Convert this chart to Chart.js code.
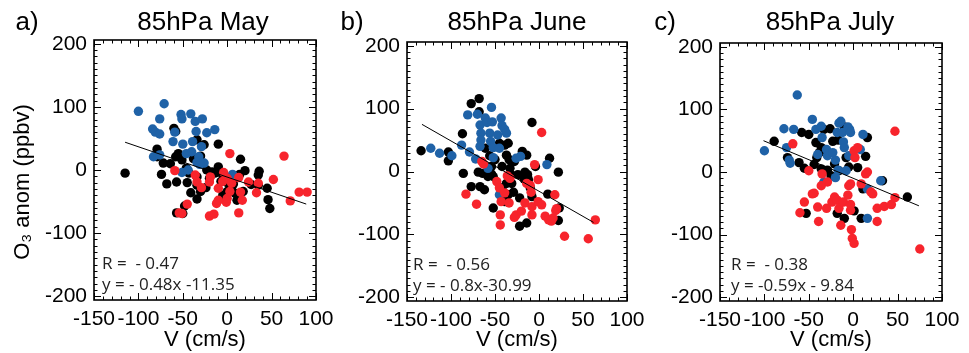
<!DOCTYPE html>
<html>
<head>
<meta charset="utf-8">
<script src="https://cdn.jsdelivr.net/npm/chart.js"></script>
<style>
  body { margin: 0; background: #fff; }
  #wrap { position: relative; width: 969px; height: 353px; overflow: hidden; }
  canvas { position: absolute; top: 0; }
</style>
</head>
<body>
<div id="wrap">
  <canvas id="cMay"></canvas>
  <canvas id="cJun"></canvas>
  <canvas id="cJul"></canvas>
</div>
<script>
// axis ticks shared by all panels
const xTicks = [-150, -100, -50, 0, 50, 100];
const yTicks = [-200, -100, 0, 100, 200];

// May (a), [V, O3 anom]
const mayBlue = [[-100,93],[-71,105],[-76,81],[-84,65],[-81,60],[-76,57],[-83,21],[-76,24],[-52,88],[-51,81],
  [-41,89],[-36,77],[-28,81],[-59,60],[-61,45],[-50,41],[-39,45],[-35,61],[-23,59],[-14,64],[-46,26],[-40,29],
  [-32,21],[-29,37],[-26,11],[-34,12],[-51,-4],[-44,0],[-31,9],[6,-7]];
const mayBlack = [[-115,-5],[-79,33],[-79,21],[-72,11],[-74,-7],[-68,-22],[-64,10],[-60,66],[-58,61],[-58,21],
  [-55,26],[-57,-19],[-51,16],[-46,3],[-43,-5],[-38,18],[-34,48],[-30,22],[-26,40],[-23,0],[-45,-20],[-41,-36],
  [-34,-46],[-34,-24],[-30,-34],[-24,-28],[-20,-13],[-17,-3],[-14,-5],[-10,41],[-10,5],[-8,-4],[-7,-18],[-2,-11],
  [0,-20],[-5,-40],[0,-34],[5,-28],[7,-22],[14,-7],[15,17],[18,-34],[20,-1],[27,-23],[35,-8],[36,-2],[35,-24],
  [45,-29],[46,-47],[48,-61],[-57,-68],[-50,-69],[-48,-57],[-34,-11],[9,-37],[11,-48]];
const mayRed = [[-59,-1],[-54,-68],[-51,-69],[-45,-54],[-36,-8],[-34,-19],[-29,-28],[-20,-19],[-19,-11],[-20,-73],
  [-15,-70],[-12,-53],[-10,-29],[-5,-18],[-4,-4],[0,-13],[-1,-51],[0,-45],[3,26],[5,-21],[3,-34],[13,-12],
  [15,-35],[17,-48],[13,-68],[24,-19],[35,-21],[33,-36],[52,-15],[64,22],[71,-49],[81,-35],[90,-35],[-10,-48]];
const mayFit = [[-115,44],[89,-54]];

// June (b)
const junBlue = [[-123,37],[-113,29],[-99,25],[-88,42],[-81,90],[-79,31],[-70,91],[-67,74],[-66,61],[-66,50],
  [-67,40],[-72,20],[-61,85],[-59,78],[-54,102],[-56,61],[-55,48],[-53,79],[-52,38],[-52,22],[-43,85],[-42,73],
  [-39,67],[-37,61],[-47,58],[-45,37],[-58,5],[-26,21],[-21,24],[9,11],[-45,-37]];
const junBlack = [[-134,33],[-103,31],[-103,17],[-87,60],[-86,-3],[-77,-24],[-77,108],[-68,116],[-68,95],[-69,-1],
  [-67,-24],[-64,-3],[-62,-29],[-61,37],[-56,25],[-54,8],[-54,-4],[-52,-8],[-52,-58],[-50,19],[-45,45],[-42,8],
  [-42,-26],[-39,42],[-37,26],[-35,45],[-34,19],[-33,5],[-32,-5],[-31,-19],[-29,-33],[-35,-37],[-39,-48],[-24,-5],
  [-22,-42],[-22,-87],[-19,32],[-17,-12],[-16,-1],[-14,26],[-13,-5],[-12,-13],[-14,-82],[-8,78],[-8,-40],[-4,8],
  [10,-36],[12,21],[22,-1],[23,-58],[22,-78],[-10,-26],[-28,16],[-37,-19],[-58,-8]];
const junRed = [[-83,-36],[-71,-52],[-65,16],[-63,12],[-48,-16],[-45,-26],[-44,-69],[-43,-48],[-44,-85],[-39,-34],
  [-36,-7],[-34,-50],[-33,-11],[-28,-73],[-26,-69],[-20,-63],[-16,-50],[-14,-19],[-10,-22],[-9,-33],[-8,-56],
  [-8,-69],[-5,11],[-1,-48],[3,62],[3,-53],[7,-71],[11,-77],[14,-79],[16,-74],[18,-37],[19,-62],[20,-59],
  [29,-103],[56,-107],[64,-77],[-1,-13]];
const junFit = [[-133,75],[62,-81]];

// July (c)
const julBlue = [[-100,34],[-78,69],[-67,68],[-75,39],[-72,19],[-71,14],[-63,123],[-46,84],[-42,68],[-36,73],
  [-35,55],[-40,28],[-30,36],[-29,26],[-23,31],[-20,19],[-16,78],[-14,81],[-18,63],[-12,63],[-11,48],[-10,39],
  [-6,72],[-4,68],[-3,63],[-5,26],[-8,2],[-20,-9],[-33,-16],[11,60],[8,36],[16,-27],[16,-74],[31,-14],[-17,3]];
const julBlack = [[-89,49],[-74,23],[-61,15],[-58,63],[-55,6],[-50,60],[-44,12],[-42,47],[-41,23],[-38,31],
  [-36,39],[-33,68],[-29,3],[-26,69],[-25,-6],[-23,49],[-21,13],[-17,51],[-16,2],[-10,72],[-8,23],[-5,8],
  [1,-62],[5,7],[9,-74],[11,-27],[16,55],[14,25],[33,-14],[61,-40],[-53,-66],[-18,-66],[-10,-74],[-36,5]];
const julRed = [[-68,45],[-60,-65],[-55,-48],[-50,2],[-46,-35],[-44,-34],[-40,-56],[-39,-79],[-35,-3],[-29,-16],
  [-30,-58],[-24,-48],[-21,-40],[-18,-45],[-16,-58],[-14,-85],[-11,-48],[-6,-37],[-5,-22],[-3,-61],[-3,-52],
  [-1,-106],[1,-114],[-2,-92],[1,34],[2,23],[-3,-19],[5,39],[9,-19],[14,-3],[16,0],[20,-32],[22,-35],[27,-58],
  [27,-79],[35,-55],[43,-52],[47,65],[47,-41],[75,-123],[-36,-22]];
const julFit = [[-101,50],[74,-54]];

const BLUE = '#1f62a7', RED = '#f7242c', BLACK = '#000000';
const TICK_FONT = 'Liberation Sans, Arial, sans-serif';

const toXY = arr => arr.map(([x, y]) => ({ x, y }));

// box, inward ticks on all sides, texts
const framePlugin = {
  id: 'frame',
  afterDraw(chart, args, o) {
    const { ctx, chartArea: a, scales: { x, y } } = chart;
    ctx.save();
    ctx.strokeStyle = '#000';
    ctx.lineWidth = 1;
    for (let v = -150; v <= 100; v += 10) {
      const px = Math.round(x.getPixelForValue(v)) + 0.5;
      const len = xTicks.includes(v) ? 7 : 3.5;
      ctx.beginPath();
      ctx.moveTo(px, a.bottom); ctx.lineTo(px, a.bottom - len);
      ctx.moveTo(px, a.top); ctx.lineTo(px, a.top + len);
      ctx.stroke();
    }
    for (let v = -200; v <= 200; v += 10) {
      const py = Math.round(y.getPixelForValue(v)) + 0.5;
      const len = yTicks.includes(v) ? 7 : 3.5;
      ctx.beginPath();
      ctx.moveTo(a.left, py); ctx.lineTo(a.left + len, py);
      ctx.moveTo(a.right, py); ctx.lineTo(a.right - len, py);
      ctx.stroke();
    }
    ctx.lineWidth = 1.6;
    ctx.strokeRect(a.left, a.top, a.right - a.left, a.bottom - a.top);

    ctx.fillStyle = '#000';
    ctx.textBaseline = 'middle';
    ctx.textAlign = 'center';
    ctx.font = '26px ' + TICK_FONT;
    ctx.fillText(o.title, o.titleX, 23);
    ctx.fillText(o.letter, o.letterX, 23);

    if (o.yTitle) {
      ctx.save();
      ctx.translate(o.yTitleX, 182);
      ctx.rotate(-Math.PI / 2);
      ctx.font = '22px ' + TICK_FONT;
      ctx.fillText(o.yTitle, 0, 0);
      ctx.restore();
    }

    ctx.textAlign = 'left';
    ctx.fillStyle = '#222';
    ctx.font = '17px "Open Sans", sans-serif';
    ctx.fillText(o.rText, a.left + o.textDx, a.bottom - 36);
    ctx.fillText(o.fitText, a.left + o.textDx, a.bottom - 15);
    ctx.restore();
  }
};

function makePanel(id, left, width, pad, yWidth, blue, black, red, fit, texts) {
  const cv = document.getElementById(id);
  cv.style.left = left + 'px';
  cv.width = width; cv.height = 353;
  cv.style.width = width + 'px'; cv.style.height = '353px';
  const pts = (data, color, order) => ({
    type: 'scatter', data: toXY(data), backgroundColor: color, borderWidth: 0,
    pointRadius: 4.7, pointHoverRadius: 4.7, order
  });
  return new Chart(cv, {
    type: 'scatter',
    data: {
      datasets: [
        { type: 'line', data: toXY(fit), borderColor: '#000', borderWidth: 1, pointRadius: 0, order: 0 },
        pts(red, RED, 1),
        pts(blue, BLUE, 2),
        pts(black, BLACK, 3)
      ]
    },
    options: {
      responsive: false,
      animation: false,
      events: [],
      layout: { padding: { left: 0, right: pad.right, top: pad.top, bottom: 0 } },
      plugins: { legend: { display: false }, tooltip: { enabled: false }, frame: texts },
      scales: {
        x: {
          type: 'linear', min: -150, max: 100,
          afterBuildTicks: s => { s.ticks = xTicks.map(v => ({ value: v })); },
          afterFit: s => { s.height = pad.xHeight; },
          grid: { display: false, drawTicks: false },
          border: { display: false },
          ticks: { color: '#000', font: { size: 21, family: TICK_FONT }, padding: 7, maxRotation: 0, autoSkip: false },
          title: { display: true, text: 'V (cm/s)', color: '#000', font: { size: 22, family: TICK_FONT, lineHeight: 1.2 }, padding: 0 }
        },
        y: {
          type: 'linear', min: -206, max: 206,
          afterBuildTicks: s => { s.ticks = yTicks.map(v => ({ value: v })); },
          afterFit: s => { s.width = yWidth; },
          grid: { display: false, drawTicks: false },
          border: { display: false },
          ticks: { color: '#000', font: { size: 21, family: TICK_FONT }, padding: 7, autoSkip: false }
        }
      }
    },
    plugins: [framePlugin]
  });
}

makePanel('cMay', 0, 350, { right: 34, top: 40, xHeight: 53 }, 94,
  mayBlue, mayBlack, mayRed, mayFit,
  { title: '85hPa May', titleX: 203, letter: 'a)', letterX: 27, yTitle: 'O\u2083 anom (ppbv)', yTitleX: 23,
    rText: 'R =  - 0.47', fitText: 'y = - 0.48x -11.35', textDx: 8 });

makePanel('cJun', 330, 330, { right: 33, top: 42, xHeight: 52 }, 77,
  junBlue, junBlack, junRed, junFit,
  { title: '85hPa June', titleX: 517 - 330, letter: 'b)', letterX: 352 - 330,
    rText: 'R =  - 0.56', fitText: 'y = - 0.8x-30.99', textDx: 6 });

makePanel('cJul', 640, 329, { right: 27, top: 43, xHeight: 52 }, 80,
  julBlue, julBlack, julRed, julFit,
  { title: '85hPa July', titleX: 830 - 640, letter: 'c)', letterX: 665 - 640,
    rText: 'R =  - 0.38', fitText: 'y = -0.59x - 9.84', textDx: 11 });
</script>
</body>
</html>
